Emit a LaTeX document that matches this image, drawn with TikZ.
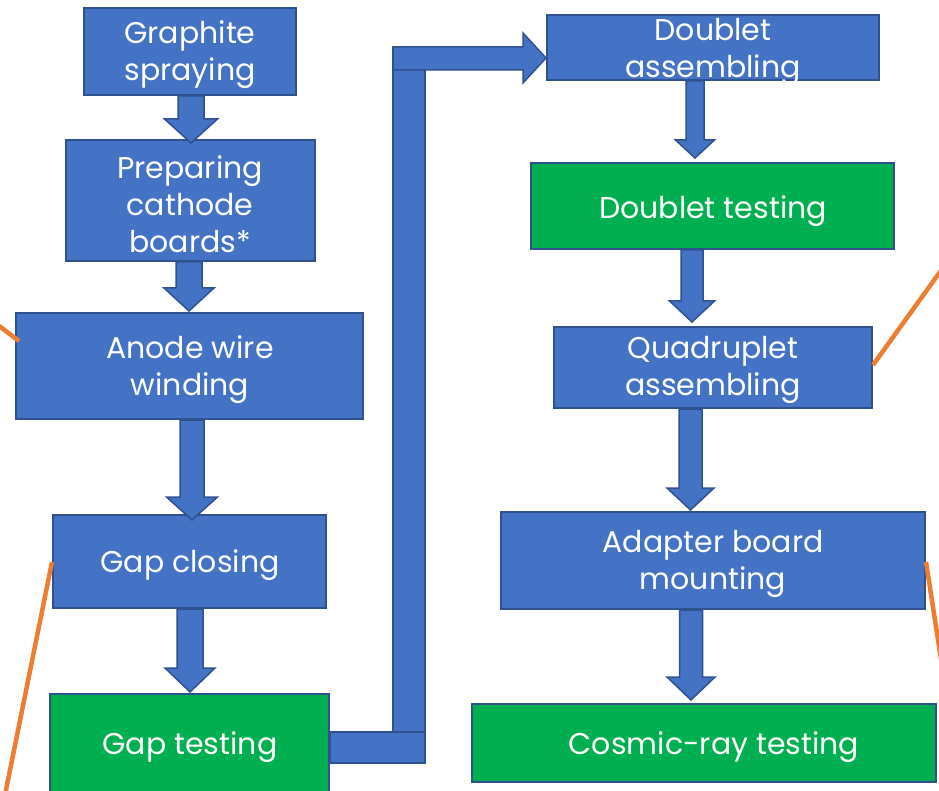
\documentclass[tikz,border=0pt]{standalone}
\usepackage{fontspec}
\setmainfont{Poppins}
\definecolor{boxblue}{HTML}{4472C4}
\definecolor{boxedge}{HTML}{2F528F}
\definecolor{boxgreen}{HTML}{00B050}
\definecolor{orangeline}{HTML}{ED7D31}
\tikzset{
  bluebox/.style={draw=boxedge, line width=2pt, fill=boxblue, inner sep=0pt},
  greenbox/.style={draw=boxedge, line width=2pt, fill=boxgreen, inner sep=0pt},
  label text/.style={text=white, align=center, font=\fontsize{30}{37}\selectfont, inner sep=0pt},
  blockarrow/.style={draw=boxedge, line width=1.5pt, fill=boxblue, line join=miter},
  callout/.style={draw=orangeline, line width=4.5pt}
}
\newcommand\boxat[6]{% name, x1, y1, x2, y2, style
  \node[#6, minimum width={(#4)-(#2)}, minimum height={(#5)-(#3)}] (#1) at ({((#2)+(#4))/2},{((#3)+(#5))/2}) {};}
\newcommand\downblock[6]{% xc, top, shaft half, head half, head start, tip
  \draw[blockarrow] ({#1-#3},#2) -- ({#1-#3},#5) -- ({#1-#4},#5) -- (#1,#6) -- ({#1+#4},#5) -- ({#1+#3},#5) -- ({#1+#3},#2) -- cycle;}
\begin{document}
\begin{tikzpicture}[x=1pt,y=-1pt]
\useasboundingbox (0,0) rectangle (939,791);
\clip (0,0) rectangle (939,791);
% left column boxes
\boxat{b1}{84}{8}{296}{95}{bluebox}
\boxat{b2}{66}{140}{315}{261}{bluebox}
\boxat{b3}{16}{313}{363}{419}{bluebox}
\boxat{b4}{53}{515}{326}{608}{bluebox}
\boxat{b5}{50}{694}{329}{800}{greenbox}
% right column boxes
\boxat{b6}{547}{15}{879}{80}{bluebox}
\boxat{b7}{531}{163}{894}{249}{greenbox}
\boxat{b8}{554}{327}{872}{408}{bluebox}
\boxat{b9}{501}{512}{925}{609}{bluebox}
\boxat{b10}{472}{704}{936}{782}{greenbox}
% texts
\node[label text] (t1) at (190,55) {Graphite\\spraying};
\node[label text] (t2) at (190,204) {Preparing\\cathode\\boards*};
\node[label text] (t3) at (190,370) {Anode wire\\winding};
\node[label text] (t4) at (190,565) {Gap closing};
\node[label text] (t5) at (190,747) {Gap testing};
\node[label text] (t6) at (713,52) {Doublet\\assembling};
\node[label text] (t7) at (713,211) {Doublet testing};
\node[label text] (t8) at (713,370) {Quadruplet\\assembling};
\node[label text] (t9) at (713,564) {Adapter board\\mounting};
\node[label text] (t10) at (714,747) {Cosmic-ray testing};
% down arrows left
\downblock{191}{96}{13}{26.5}{119}{143}
\downblock{189}{262}{13}{25}{288}{311}
\downblock{192}{420}{12}{25.5}{497}{520}
\downblock{190}{609}{13}{25}{668}{692}
% down arrows right
\downblock{695}{81}{9}{19.5}{140}{158}
\downblock{692}{250}{11}{22.5}{301}{322}
\downblock{690.5}{409}{11.5}{23.5}{488}{510}
\downblock{691}{610}{11.5}{24}{677}{700}
% elbow arrow from Gap testing to Doublet assembling
\draw[blockarrow] (393,47) rectangle (425,763);
\draw[blockarrow] (b5.east |- 0,732) rectangle (425,763);
\draw[blockarrow] (393,47) -- (523,47) -- (523,33) -- (b6.west |- 0,58) -- (523,83) -- (523,70) -- (393,70) -- cycle;
% orange callout lines
\coordinate (o1) at (-10,319);
\coordinate (o2) at (5,795);
\coordinate (o3) at (950,258);
\coordinate (o4) at (945,685);
\draw[callout] (o1) -- ([xshift=4pt]b3.west |- 0,341);
\draw[callout] (b4.west |- 0,562) -- (o2);
\draw[callout] (b8.east |- 0,365) -- (o3);
\draw[callout] (b9.east |- 0,562) -- (o4);
\end{tikzpicture}
\end{document}
